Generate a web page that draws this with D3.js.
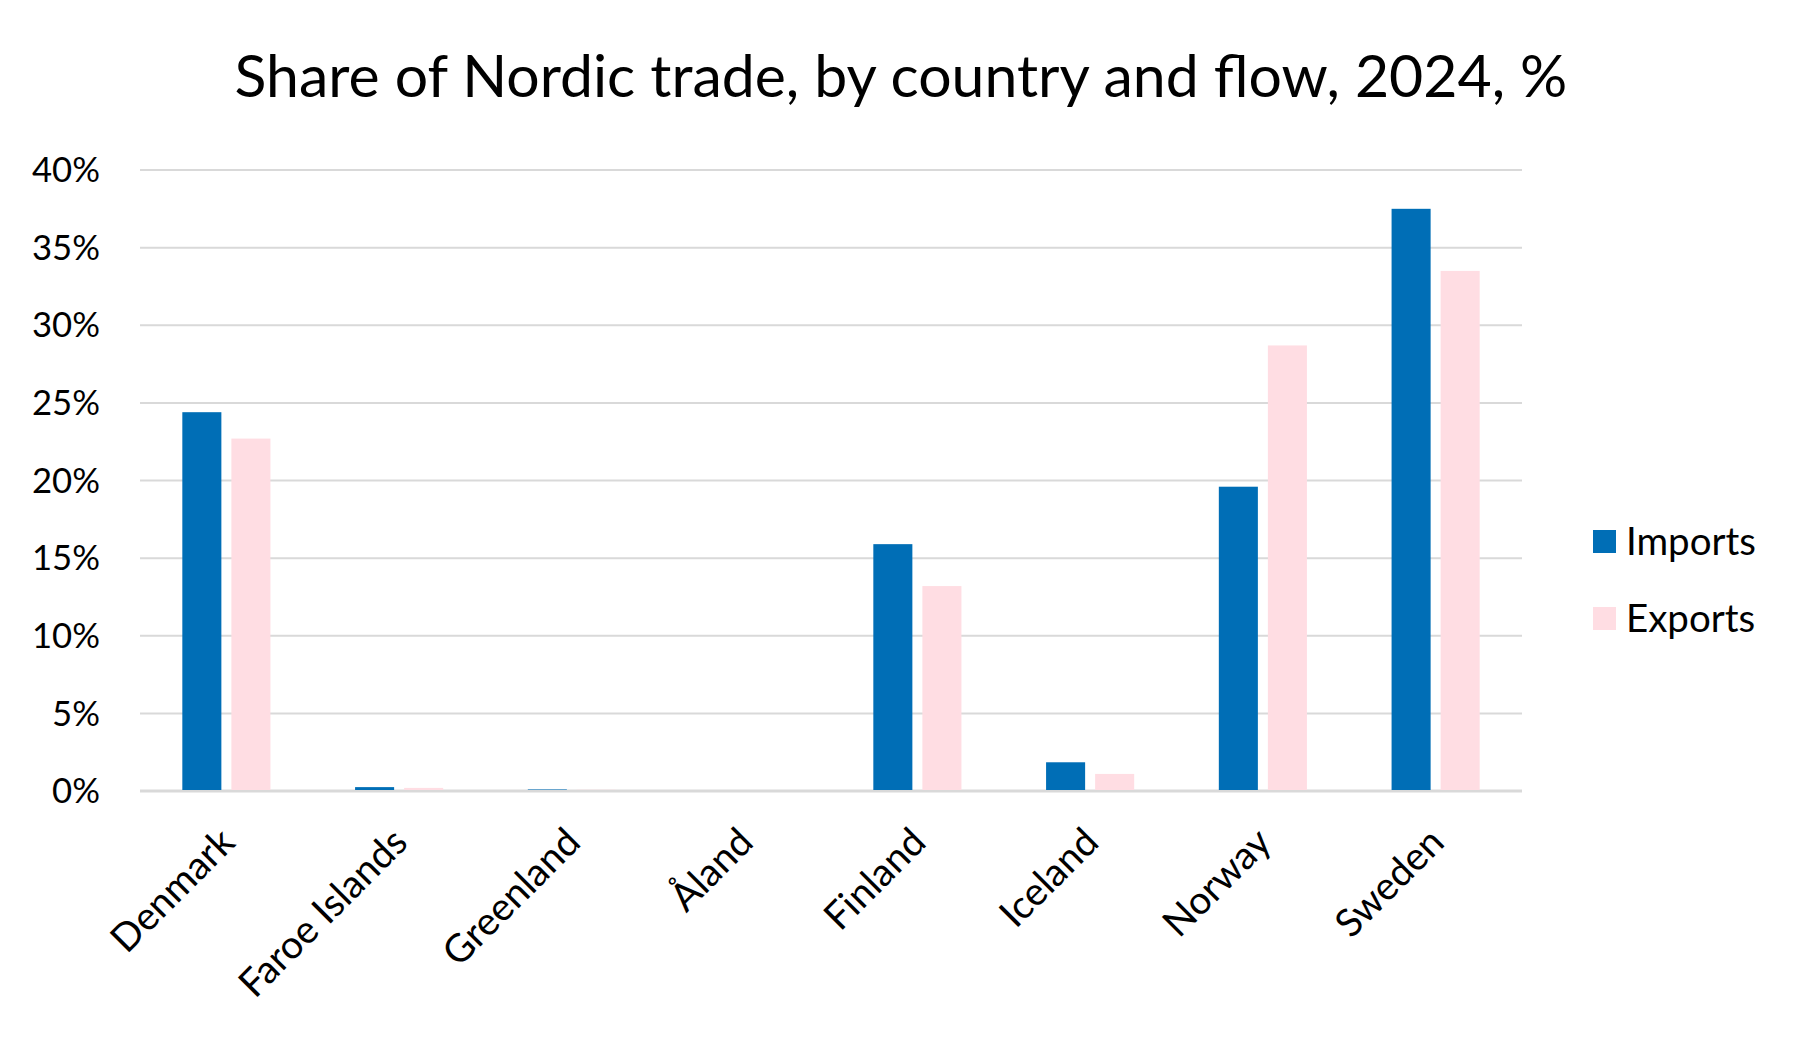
<!DOCTYPE html>
<html>
<head>
<meta charset="utf-8">
<script src="https://cdn.jsdelivr.net/npm/d3@7"></script>
<style>
  html, body { margin: 0; padding: 0; background: #fff; }
  svg { display: block; font-family: Lato, "Open Sans", sans-serif; }
</style>
</head>
<body>
<svg id="chart" width="1803" height="1040"></svg>
<script>
const title = "Share of Nordic trade, by country and flow, 2024, %";
const categories = ["Denmark", "Faroe Islands", "Greenland", "Åland", "Finland", "Iceland", "Norway", "Sweden"];
const seriesNames = ["Imports", "Exports"];
const imports = [24.4, 0.25, 0.1, 0, 15.9, 1.85, 19.6, 37.5];
const exports = [22.7, 0.2, 0.08, 0, 13.2, 1.1, 28.7, 33.5];
const yTicks = [0, 5, 10, 15, 20, 25, 30, 35, 40];

const colors = { Imports: "#006EB6", Exports: "#FFDDE3" };
const values = { Imports: imports, Exports: exports };

const svg = d3.select("#chart");
const margin = { left: 140, right: 1522, top: 170, bottom: 791 };

const x = d3.scaleBand().domain(categories).range([margin.left, margin.right])
  .paddingInner(0.49).paddingOuter(0.245);
const xs = d3.scaleBand().domain(seriesNames).range([0, x.bandwidth()]).paddingInner(0.204).paddingOuter(0);
const y = d3.scaleLinear().domain([0, 40]).range([margin.bottom, margin.top]);

function fit(sel, target) {
  const node = sel.node();
  const fs = parseFloat(sel.attr("font-size"));
  const w = node.getComputedTextLength();
  sel.attr("font-size", (fs * target / w).toFixed(2));
}

// Title
const t = svg.append("text").attr("x", 901).attr("y", 97).attr("text-anchor", "middle")
  .attr("font-size", 50).attr("fill", "#000").text(title);
fit(t, 1333);

// Gridlines
svg.append("g").selectAll("line").data(yTicks).join("line")
  .attr("x1", margin.left).attr("x2", margin.right)
  .attr("y1", d => y(d)).attr("y2", d => y(d))
  .attr("stroke", "#d9d9d9").attr("stroke-width", d => d === 0 ? 3 : 2);

// Y labels
const yl = svg.append("g").selectAll("text").data(yTicks).join("text")
  .attr("x", 100).attr("y", d => y(d)).attr("dy", "0.35em")
  .attr("text-anchor", "end").attr("font-size", 34).attr("fill", "#000")
  .text(d => d + "%");
{
  const last = yl.filter(d => d === 40);
  const w = last.node().getComputedTextLength();
  const fs = 34 * 68 / w;
  yl.attr("font-size", fs.toFixed(2));
}

// Bars
const groups = svg.append("g").selectAll("g").data(categories).join("g")
  .attr("transform", d => `translate(${x(d)},0)`);
groups.selectAll("rect").data((c, i) => seriesNames.map(s => ({ s, v: values[s][i] })))
  .join("rect")
  .attr("x", d => xs(d.s)).attr("width", xs.bandwidth())
  .attr("y", d => y(d.v)).attr("height", d => Math.max(0, y(0) - y(d.v) - 1))
  .attr("fill", d => colors[d.s]);

// X labels
const xl = svg.append("g").selectAll("text").data(categories).join("text")
  .attr("transform", d => `translate(${x(d) + x.bandwidth() / 2 + 1},${835}) rotate(-45)`)
  .attr("text-anchor", "end").attr("dy", "0.35em")
  .attr("font-size", 34).attr("fill", "#000").text(d => d);
{
  const f = xl.filter(d => d === "Faroe Islands");
  const w = f.node().getComputedTextLength();
  xl.attr("font-size", (34 * 219 / w).toFixed(2));
}

// Legend
const lg = svg.append("g");
const legendY = { Imports: 541.5, Exports: 618.5 };
seriesNames.forEach(s => {
  lg.append("rect").attr("x", 1593).attr("y", legendY[s] - 11.5).attr("width", 23).attr("height", 23)
    .attr("fill", colors[s]);
});
const lt = lg.selectAll("text").data(seriesNames).join("text")
  .attr("x", 1626).attr("y", d => legendY[d]).attr("dy", "0.35em")
  .attr("font-size", 34).attr("fill", "#000").text(d => d);
{
  const f = lt.filter(d => d === "Imports");
  const w = f.node().getComputedTextLength();
  lt.attr("font-size", (34 * 130 / w).toFixed(2));
}
</script>
</body>
</html>
